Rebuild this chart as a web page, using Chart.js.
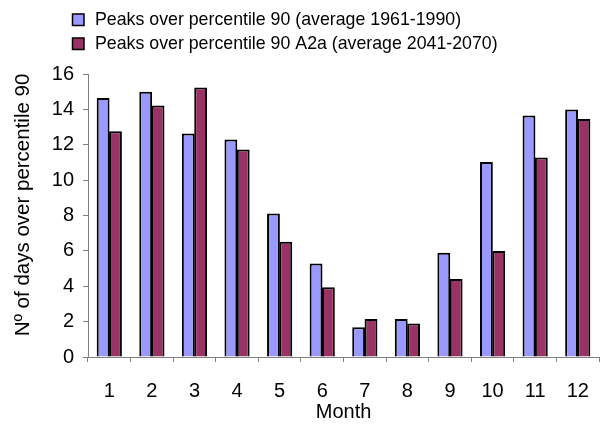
<!DOCTYPE html>
<html>
<head>
<meta charset="utf-8">
<script src="https://cdn.jsdelivr.net/npm/chart.js@4/dist/chart.umd.min.js"></script>
<style>
  html, body { margin: 0; padding: 0; background: #ffffff; }
  #wrap { width: 606px; height: 426px; position: relative; }
</style>
</head>
<body>
<div id="wrap"><canvas id="c" width="606" height="426"></canvas></div>
<script>
// Monthly count of days over the 90th percentile
const months = ['1', '2', '3', '4', '5', '6', '7', '8', '9', '10', '11', '12'];
const baseline = [14.65, 15.0, 12.64, 12.3, 8.12, 5.29, 1.68, 2.15, 5.89, 11.03, 13.65, 13.99];
const scenarioA2a = [12.77, 14.22, 15.24, 11.73, 6.52, 3.94, 2.15, 1.9, 4.41, 5.99, 11.28, 13.45];
const yTicks = [0, 2, 4, 6, 8, 10, 12, 14, 16];

const seriesNames = [
  'Peaks over percentile 90 (average 1961-1990)',
  'Peaks over percentile 90 A2a (average 2041-2070)'
];
const seriesColors = ['#9999FF', '#993366'];
const yTitle = 'Nº of days over percentile 90';

const FONT = 'Liberation Sans, Arial, sans-serif';
const AXIS_GREY = '#808080';

// Legend drawn as a stacked, left-aligned list above the plot,
// plus the rotated value-axis title
const chartDecor = {
  id: 'chartDecor',
  afterDraw(chart) {
    const ctx = chart.ctx;
    ctx.save();
    ctx.font = '17.75px ' + FONT;
    ctx.textBaseline = 'middle';
    chart.data.datasets.forEach((ds, i) => {
      const cy = 19.5 + i * 24;
      ctx.fillStyle = ds.backgroundColor;
      ctx.fillRect(72.5, cy - 5.5, 11.5, 11.5);
      ctx.strokeStyle = '#000';
      ctx.lineWidth = 1.5;
      ctx.strokeRect(72.5, cy - 5.5, 11.5, 11.5);
      ctx.fillStyle = '#000';
      ctx.fillText(ds.label, 95, cy + 1);
    });

    ctx.font = '20.5px ' + FONT;
    ctx.textAlign = 'center';
    ctx.translate(23.5, 205);
    ctx.rotate(-Math.PI / 2);
    ctx.fillText(yTitle, 0, 0);
    ctx.restore();
  }
};

new Chart(document.getElementById('c'), {
  type: 'bar',
  data: {
    labels: months,
    datasets: [
      { label: seriesNames[0], data: baseline, backgroundColor: seriesColors[0],
        borderColor: '#000', borderWidth: 2, borderSkipped: 'bottom' },
      { label: seriesNames[1], data: scenarioA2a, backgroundColor: seriesColors[1],
        borderColor: '#000', borderWidth: 2, borderSkipped: 'bottom' }
    ]
  },
  options: {
    responsive: false,
    animation: false,
    events: [],
    layout: { padding: { top: 74, right: 3, left: 0, bottom: 0 } },
    datasets: { bar: { barPercentage: 1.04, categoryPercentage: 0.58 } },
    plugins: { legend: { display: false }, tooltip: { enabled: false } },
    scales: {
      x: {
        grid: { offset: true, drawOnChartArea: false, drawTicks: true, tickLength: 5, color: AXIS_GREY, tickColor: AXIS_GREY },
        border: { color: AXIS_GREY, width: 1 },
        ticks: { color: '#000', font: { family: FONT, size: 20 }, padding: 17, maxRotation: 0 },
        title: { display: true, text: 'Month', color: '#000', font: { family: FONT, size: 20 }, padding: { top: 0, bottom: 2 } },
        afterFit(scale) { scale.height = 69; }
      },
      y: {
        min: 0, max: 16,
        afterBuildTicks(scale) { scale.ticks = yTicks.map(v => ({ value: v })); },
        grid: { drawOnChartArea: false, drawTicks: true, tickLength: 5, color: AXIS_GREY, tickColor: AXIS_GREY },
        border: { color: AXIS_GREY, width: 1 },
        ticks: { color: '#000', font: { family: FONT, size: 20 }, padding: 9 },
        afterFit(scale) { scale.width = 88; }
      }
    }
  },
  plugins: [chartDecor]
});
</script>
</body>
</html>
